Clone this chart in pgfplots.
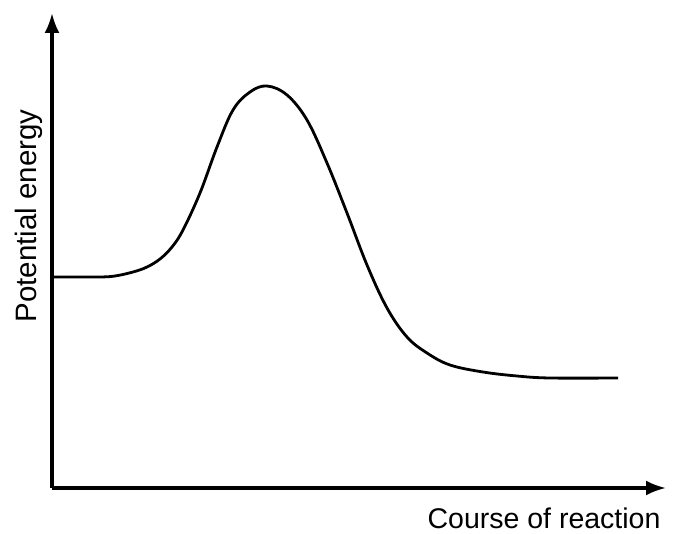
\documentclass[border=0pt]{standalone}
\usepackage{pgfplots}
\pgfplotsset{compat=1.18}
\usetikzlibrary{arrows.meta}
\usepackage{fontspec}
\setmainfont{Liberation Sans}
\begin{document}
\begin{tikzpicture}
\begin{axis}[
    scale only axis,
    width=614pt, height=475pt,
    xmin=0, xmax=614, ymin=0, ymax=475,
    axis x line=bottom, axis y line=left,
    axis line style={line width=3.2pt, -{Latex[length=20pt,width=15pt]}},
    xtick=\empty, ytick=\empty,
    clip=false,
]
\addplot[smooth, tension=0.6, line width=2.8pt, black] coordinates {
    (0,211) (23,211) (48,211) (63,212) (81,216) (95,221) (108,229) (120,241) (131,258)
    (148,295) (165,341) (181,378) (198,396) (215,402) (235,393)
    (255,368) (275,325) (295,275) (315,223) (335,180) (355,151)
    (375,135) (398,123) (431,116) (465,112) (498,110) (566,110)
};
\node[anchor=base west, rotate=90, font=\fontsize{29.5}{32}\selectfont] at (axis cs:-15,162) {Potential energy};
\node[anchor=base east, font=\fontsize{28.5}{32}\selectfont] at (axis cs:612,-40) {Course of reaction};
\path (axis cs:-52,-45) rectangle (axis cs:624,488);
\end{axis}
\end{tikzpicture}
\end{document}
